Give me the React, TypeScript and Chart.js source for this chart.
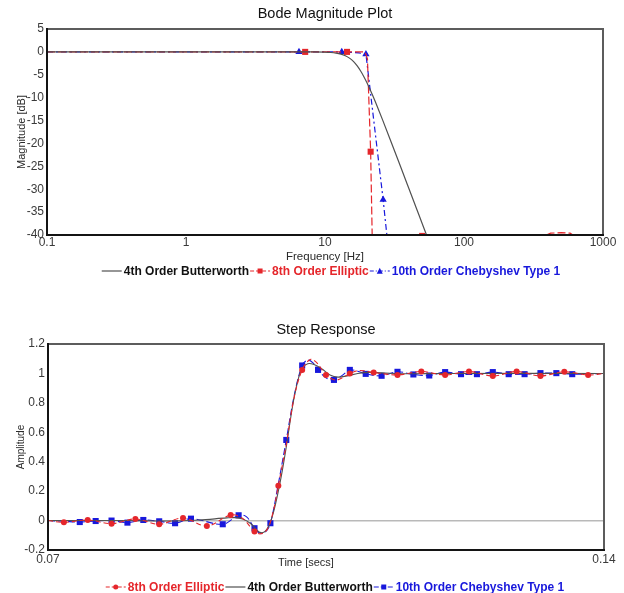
import React, { useEffect, useRef } from 'react';
import { Chart, registerables } from 'chart.js';

Chart.register(...registerables);

const FONT = '"Liberation Sans", Arial, Helvetica, sans-serif';
const RED = '#e5262b';
const BLUE = '#1818dc';
const GRAY = '#505050';
const INK = '#111111';
const TICK = '#3a3a3a';

Chart.defaults.font.family = FONT;
Chart.defaults.color = TICK;

// ---- Bode magnitude: frequency [Hz] and magnitude [dB] per filter ----
const bodeDecades = [0.1, 1, 10, 100, 1000];

const butterHz = [0.1, 1, 5, 8, 10, 11, 12, 13, 14, 15, 16, 17, 18, 19, 20, 22, 24, 26, 30, 35, 40, 45, 50, 55, 60, 100];
const butterDb = [0, 0, 0, -0.01, -0.06, -0.13, -0.26, -0.48, -0.83, -1.36, -2.08, -3.01, -4.12, -5.36, -6.69, -9.48, -12.25, -14.91, -19.78, -25.1, -29.73, -33.82, -37.48, -40.79, -43.82, -61.6];

const ellipticHz = [0.1, 1, 7.2, 14.4, 19.4, 20.2, 21.3, 22.0, 50, 350, 420, 500, 580, 650, 1000];
const ellipticDb = [0, 0, 0, 0, 0, -1.5, -21.8, -45, -40.2, -40.6, -39.6, -39.5, -39.6, -40.6, -48];
const ellipticMarkedHz = [7.2, 14.4, 21.3, 50];

const chebyHz = [0.1, 1, 6.5, 13.2, 17.5, 19.7, 26.2, 29, 1000];
const chebyDb = [0, 0, 0, 0, -0.2, -0.5, -32.3, -45, -120];
const chebyMarkedHz = [6.5, 13.2, 19.7, 26.2];

// ---- Step response: time [s] and amplitude per filter ----
const stepTimeTicks = [0.07, 0.14];

const stepButterT = [0.07, 0.08, 0.085, 0.089, 0.0925, 0.0935, 0.0945, 0.0955, 0.0962, 0.0968, 0.0974, 0.098, 0.0985, 0.099, 0.0995, 0.1, 0.1005, 0.101, 0.1015, 0.102, 0.1027, 0.1035, 0.1045, 0.1055, 0.1065, 0.1078, 0.109, 0.1105, 0.112, 0.115, 0.12, 0.14];
const stepButterY = [0, 0, -0.003, 0.004, 0.018, 0.02, 0.01, -0.02, -0.06, -0.082, -0.07, -0.01, 0.08, 0.2, 0.34, 0.5, 0.68, 0.84, 0.96, 1.035, 1.066, 1.06, 1.03, 0.99, 0.975, 0.985, 1.0, 1.007, 1.004, 0.998, 1.0, 1.0];

const stepEllipticT = [0.07, 0.072, 0.075, 0.078, 0.081, 0.084, 0.087, 0.09, 0.093, 0.0945, 0.096, 0.0968, 0.0976, 0.0983, 0.099, 0.1, 0.101, 0.102, 0.103, 0.1038, 0.105, 0.1062, 0.1072, 0.108, 0.1092, 0.111, 0.114, 0.117, 0.12, 0.123, 0.126, 0.129, 0.132, 0.135, 0.138, 0.14];
const stepEllipticY = [0, -0.012, 0.004, -0.021, 0.011, -0.025, 0.018, -0.037, 0.038, 0.015, -0.075, -0.09, -0.06, 0.05, 0.237, 0.52, 0.84, 1.024, 1.095, 1.075, 0.99, 0.955, 0.975, 1.0, 1.02, 1.006, 0.99, 1.013, 0.99, 1.013, 0.983, 1.013, 0.983, 1.011, 0.99, 1.0];

const stepChebyT = [0.07, 0.072, 0.074, 0.076, 0.078, 0.08, 0.082, 0.084, 0.086, 0.088, 0.092, 0.094, 0.095, 0.096, 0.0967, 0.0974, 0.098, 0.099, 0.1, 0.101, 0.102, 0.1027, 0.1034, 0.104, 0.105, 0.106, 0.107, 0.108, 0.109, 0.11, 0.112, 0.114, 0.116, 0.118, 0.12, 0.122, 0.124, 0.126, 0.128, 0.13, 0.132, 0.134, 0.136, 0.14];
const stepChebyY = [0, -0.005, -0.01, -0.003, 0.0, -0.014, 0.004, -0.005, -0.018, 0.013, -0.025, 0.036, 0.025, -0.052, -0.085, -0.075, -0.018, 0.25, 0.548, 0.85, 1.054, 1.09, 1.07, 1.024, 0.97, 0.956, 0.985, 1.024, 1.015, 0.997, 0.984, 1.011, 0.993, 0.986, 1.009, 0.995, 0.995, 1.009, 0.995, 0.995, 1.002, 1.002, 0.995, 1.0];

const toPoints = (xs: number[], ys: number[]) => xs.map((x, i) => ({ x, y: ys[i] }));

// markers are placed on a regular time raster for the step traces
const onRaster = (t: number, start: number, step: number, end: number) => {
  if (t < start - 1e-9 || t > end + 1e-9) return false;
  const k = (t - start) / step;
  return Math.abs(k - Math.round(k)) < 1e-3;
};

type Mark = 'none' | 'rect' | 'triangle' | 'circle';

interface LegendEntry {
  label: string;
  color: string;
  textColor: string;
  dash: number[];
  mark: Mark;
  markSize: number;
}

interface Decor {
  title: string;
  titleY: number;
  xTitle: string;
  xTitleX?: number;
  xTitleY: number;
  xTitleSize: number;
  yTitle: string;
  yTitleX: number;
  yTitleSize: number;
  legend: LegendEntry[];
  legendY: number;
  legendCenterX: number;
}

function drawMark(ctx: CanvasRenderingContext2D, mark: Mark, x: number, y: number, s: number, color: string) {
  if (mark === 'none') return;
  ctx.save();
  ctx.fillStyle = color;
  ctx.setLineDash([]);
  ctx.beginPath();
  if (mark === 'rect') {
    ctx.rect(x - s / 2, y - s / 2, s, s);
  } else if (mark === 'circle') {
    ctx.arc(x, y, s / 2, 0, Math.PI * 2);
  } else {
    const h = s * 0.9;
    ctx.moveTo(x, y - h / 2 - 0.5);
    ctx.lineTo(x + s / 2, y + h / 2);
    ctx.lineTo(x - s / 2, y + h / 2);
    ctx.closePath();
  }
  ctx.fill();
  ctx.restore();
}

function decorPlugin(d: Decor) {
  return {
    id: 'decor',
    afterDraw(chart: Chart) {
      const ctx = chart.ctx;
      const { left, top, right, bottom } = chart.chartArea;
      const cx = (left + right) / 2;
      const cy = (top + bottom) / 2;
      ctx.save();

      // plot frame
      ctx.setLineDash([]);
      ctx.lineWidth = 2;
      ctx.strokeStyle = '#5c5c5c';
      ctx.beginPath();
      ctx.moveTo(left, top);
      ctx.lineTo(right, top);
      ctx.lineTo(right, bottom);
      ctx.stroke();
      ctx.strokeStyle = '#141414';
      ctx.beginPath();
      ctx.moveTo(left, top - 1);
      ctx.lineTo(left, bottom);
      ctx.lineTo(right + 1, bottom);
      ctx.stroke();

      // chart title
      ctx.fillStyle = INK;
      ctx.textAlign = 'center';
      ctx.textBaseline = 'middle';
      ctx.font = `14.5px ${FONT}`;
      ctx.fillText(d.title, cx, d.titleY);

      // axis titles
      ctx.fillStyle = '#2a2a2a';
      ctx.font = `${d.xTitleSize}px ${FONT}`;
      ctx.fillText(d.xTitle, d.xTitleX ?? cx, d.xTitleY);
      ctx.save();
      ctx.translate(d.yTitleX, cy);
      ctx.rotate(-Math.PI / 2);
      ctx.font = `${d.yTitleSize}px ${FONT}`;
      ctx.fillText(d.yTitle, 0, 0);
      ctx.restore();

      // legend row: line sample with marker, then bold label
      ctx.font = `bold 12px ${FONT}`;
      const sample = 20;
      const gapA = 2;
      const gapB = 1;
      const widths = d.legend.map((e) => ctx.measureText(e.label).width);
      const total = widths.reduce((s, w) => s + sample + gapA + w + gapB, 0) - gapB;
      let x = d.legendCenterX - total / 2;
      const y = d.legendY;
      d.legend.forEach((e, i) => {
        ctx.save();
        ctx.strokeStyle = e.color;
        ctx.lineWidth = 1.2;
        ctx.setLineDash(e.dash);
        ctx.beginPath();
        ctx.moveTo(x, y);
        ctx.lineTo(x + sample, y);
        ctx.stroke();
        ctx.restore();
        drawMark(ctx, e.mark, x + sample / 2, y, e.markSize, e.color);
        ctx.fillStyle = e.textColor;
        ctx.textAlign = 'left';
        ctx.textBaseline = 'middle';
        ctx.fillText(e.label, x + sample + gapA, y + 0.5);
        x += sample + gapA + widths[i] + gapB;
      });

      ctx.restore();
    },
  };
}

function bodeConfig(): any {
  const decor: Decor = {
    title: 'Bode Magnitude Plot',
    titleY: 14,
    xTitle: 'Frequency [Hz]',
    xTitleY: 257,
    xTitleSize: 11.5,
    yTitle: 'Magnitude [dB]',
    yTitleX: 22,
    yTitleSize: 11,
    legendY: 271,
    legendCenterX: 331,
    legend: [
      { label: '4th Order Butterworth', color: GRAY, textColor: INK, dash: [], mark: 'none', markSize: 0 },
      { label: '8th Order Elliptic', color: RED, textColor: RED, dash: [4, 2], mark: 'rect', markSize: 5 },
      { label: '10th Order Chebyshev Type 1', color: BLUE, textColor: BLUE, dash: [4, 2, 1, 2], mark: 'triangle', markSize: 6 },
    ],
  };
  return {
    type: 'line',
    data: {
      datasets: [
        {
          label: '4th Order Butterworth',
          data: toPoints(butterHz, butterDb),
          borderColor: GRAY,
          borderWidth: 1.2,
          pointRadius: 0,
          cubicInterpolationMode: 'monotone',
        },
        {
          label: '8th Order Elliptic',
          data: toPoints(ellipticHz, ellipticDb),
          borderColor: RED,
          backgroundColor: RED,
          borderWidth: 1.2,
          borderDash: [8, 3],
          pointStyle: 'rect',
          pointBorderWidth: 0,
          pointRadius: (c: any) => (ellipticMarkedHz.includes(ellipticHz[c.dataIndex]) ? 4.3 : 0),
        },
        {
          label: '10th Order Chebyshev Type 1',
          data: toPoints(chebyHz, chebyDb),
          borderColor: BLUE,
          backgroundColor: BLUE,
          borderWidth: 1.2,
          borderDash: [6, 3, 2, 3],
          pointStyle: 'triangle',
          pointBorderWidth: 0,
          pointRadius: (c: any) => (chebyMarkedHz.includes(chebyHz[c.dataIndex]) ? 4.2 : 0),
        },
      ],
    },
    options: {
      responsive: false,
      animation: false,
      devicePixelRatio: 1,
      events: [],
      layout: { padding: { top: 29, right: 21, bottom: 36, left: 0 } },
      plugins: { legend: { display: false }, tooltip: { enabled: false }, title: { display: false } },
      scales: {
        x: {
          type: 'logarithmic',
          min: 0.1,
          max: 1000,
          border: { display: false },
          grid: { display: false, drawTicks: false },
          ticks: { padding: 0, color: TICK, font: { size: 12 }, maxRotation: 0, autoSkip: false, callback: (v: number) => String(v) },
          afterBuildTicks: (axis: any) => {
            axis.ticks = bodeDecades.map((value) => ({ value }));
          },
          afterFit: (axis: any) => {
            axis.height = 29;
          },
        },
        y: {
          min: -40,
          max: 5,
          border: { display: false },
          grid: { display: false, drawTicks: false },
          ticks: { stepSize: 5, padding: 3, color: TICK, font: { size: 12 } },
          afterFit: (axis: any) => {
            axis.width = 47;
          },
        },
      },
    },
    plugins: [decorPlugin(decor)],
  };
}

function stepConfig(): any {
  const decor: Decor = {
    title: 'Step Response',
    titleY: 30,
    xTitle: 'Time [secs]',
    xTitleX: 306,
    xTitleY: 263,
    xTitleSize: 11,
    yTitle: 'Amplitude',
    yTitleX: 21,
    yTitleSize: 10,
    legendY: 287,
    legendCenterX: 335,
    legend: [
      { label: '8th Order Elliptic', color: RED, textColor: RED, dash: [4, 2], mark: 'circle', markSize: 5 },
      { label: '4th Order Butterworth', color: GRAY, textColor: INK, dash: [], mark: 'none', markSize: 0 },
      { label: '10th Order Chebyshev Type 1', color: BLUE, textColor: BLUE, dash: [5, 2], mark: 'rect', markSize: 5 },
    ],
  };
  return {
    type: 'line',
    data: {
      datasets: [
        {
          label: '8th Order Elliptic',
          data: toPoints(stepEllipticT, stepEllipticY),
          borderColor: RED,
          backgroundColor: RED,
          borderWidth: 1.1,
          borderDash: [5, 3],
          tension: 0.35,
          pointStyle: 'circle',
          pointBorderWidth: 0,
          pointRadius: (c: any) => (onRaster(stepEllipticT[c.dataIndex], 0.072, 0.003, 0.138) ? 3 : 0),
        },
        {
          label: '4th Order Butterworth',
          data: toPoints(stepButterT, stepButterY),
          borderColor: GRAY,
          borderWidth: 1.1,
          tension: 0.35,
          pointRadius: 0,
        },
        {
          label: '10th Order Chebyshev Type 1',
          data: toPoints(stepChebyT, stepChebyY),
          borderColor: BLUE,
          backgroundColor: BLUE,
          borderWidth: 1.1,
          borderDash: [7, 3],
          tension: 0.35,
          pointStyle: 'rect',
          pointBorderWidth: 0,
          pointRadius: (c: any) => (onRaster(stepChebyT[c.dataIndex], 0.074, 0.002, 0.136) ? 4.3 : 0),
        },
      ],
    },
    options: {
      responsive: false,
      animation: false,
      devicePixelRatio: 1,
      events: [],
      layout: { padding: { top: 44, right: 20, bottom: 23, left: 0 } },
      plugins: { legend: { display: false }, tooltip: { enabled: false }, title: { display: false } },
      scales: {
        x: {
          type: 'linear',
          min: 0.07,
          max: 0.14,
          border: { display: false },
          grid: { display: false, drawTicks: false },
          ticks: { padding: 2, color: TICK, font: { size: 12 }, maxRotation: 0, autoSkip: false, callback: (v: number) => String(Number(v.toFixed(2))) },
          afterBuildTicks: (axis: any) => {
            axis.ticks = stepTimeTicks.map((value) => ({ value }));
          },
          afterFit: (axis: any) => {
            axis.height = 20;
          },
        },
        y: {
          min: -0.2,
          max: 1.2,
          border: { display: false },
          grid: {
            drawTicks: false,
            lineWidth: 1.5,
            color: (c: any) => (c.tick && Math.abs(c.tick.value) < 1e-9 ? '#b9b9b9' : 'rgba(0,0,0,0)'),
          },
          ticks: { stepSize: 0.2, padding: 3, color: TICK, font: { size: 12 }, callback: (v: number) => String(Number(v.toFixed(2))) },
          afterFit: (axis: any) => {
            axis.width = 48;
          },
        },
      },
    },
    plugins: [decorPlugin(decor)],
  };
}

function ChartCanvas({ width, height, build }: { width: number; height: number; build: () => any }) {
  const ref = useRef<HTMLCanvasElement>(null);
  useEffect(() => {
    const chart = new Chart(ref.current as HTMLCanvasElement, build());
    return () => chart.destroy();
  }, [build]);
  return <canvas ref={ref} width={width} height={height} style={{ display: 'block', width, height }} />;
}

export default function App() {
  return (
    <div style={{ position: 'absolute', left: 0, top: 0, width: 624, height: 593, background: '#ffffff' }}>
      <ChartCanvas width={624} height={300} build={bodeConfig} />
      <ChartCanvas width={624} height={293} build={stepConfig} />
    </div>
  );
}
